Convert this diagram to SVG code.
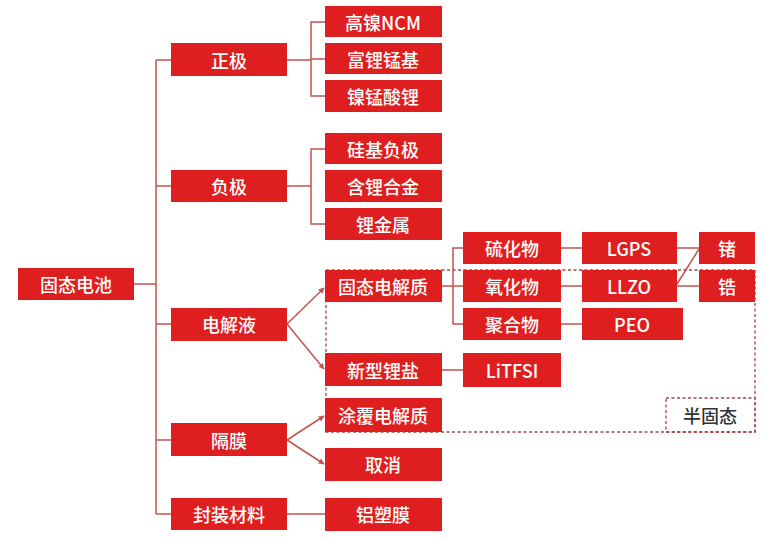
<svg xmlns="http://www.w3.org/2000/svg" width="768" height="538" viewBox="0 0 768 538">
<defs>
<marker id="arr" viewBox="0 0 10 10" refX="9" refY="5" markerWidth="6" markerHeight="6" orient="auto" markerUnits="userSpaceOnUse">
<path d="M0,0 L10,5 L0,10 z" fill="#c4534f"/>
</marker>
<style>
.n rect{fill:#df1f1f}
.n text{fill:#fff;font-family:"Noto Sans CJK SC","Noto Sans",sans-serif;font-size:18px;font-weight:500;text-anchor:middle;dominant-baseline:central}
.c line,.c polyline{stroke:#c4534f;stroke-width:1.5;fill:none}
.d{stroke:#a84444;stroke-width:1.3;stroke-dasharray:3,2.5;fill:none}
.s text{fill:#333;font-family:"Noto Sans CJK SC","Noto Sans",sans-serif;font-size:18px;font-weight:500;text-anchor:middle;dominant-baseline:central}
</style>
</defs>
<rect width="768" height="538" fill="#fff"/>

<g id="connectors" class="c">
<line x1="134" y1="284" x2="156" y2="284"/>
<line x1="156" y1="60" x2="156" y2="514"/>
<line x1="156" y1="60" x2="171" y2="60"/>
<line x1="156" y1="186" x2="171" y2="186"/>
<line x1="156" y1="324" x2="171" y2="324"/>
<line x1="156" y1="440" x2="171" y2="440"/>
<line x1="156" y1="514" x2="171" y2="514"/>
<line x1="287" y1="60" x2="311" y2="60"/>
<polyline points="325,22 311,22 311,96 325,96"/>
<line x1="311" y1="59" x2="325" y2="59"/>
<line x1="287" y1="186" x2="311" y2="186"/>
<polyline points="325,149 311,149 311,224 325,224"/>
<line x1="287" y1="324" x2="324" y2="288" marker-end="url(#arr)"/>
<line x1="287" y1="324" x2="324" y2="369" marker-end="url(#arr)"/>
<line x1="287" y1="440" x2="324" y2="416" marker-end="url(#arr)"/>
<line x1="287" y1="440" x2="324" y2="464" marker-end="url(#arr)"/>
<line x1="287" y1="514" x2="325" y2="514"/>
<line x1="442" y1="286" x2="463" y2="286"/>
<polyline points="463,248 453,248 453,324 463,324"/>
<line x1="442" y1="370" x2="463" y2="370"/>
<line x1="561" y1="248" x2="582" y2="248"/>
<line x1="561" y1="286" x2="582" y2="286"/>
<line x1="561" y1="324" x2="582" y2="324"/>
<line x1="677" y1="248" x2="699" y2="248"/>
<line x1="677" y1="286" x2="699" y2="286"/>
<line x1="677" y1="284" x2="699" y2="249"/>
</g>

<g id="semi-solid-region">
<rect class="d" x="326" y="270" width="429" height="162"/>
</g>

<g id="n-root" class="n"><rect x="18" y="268" width="116" height="32"/><text x="76" y="284">固态电池</text></g>
<g id="n-cathode" class="n"><rect x="171" y="43" width="116" height="33"/><text x="229" y="60">正极</text></g>
<g id="n-anode" class="n"><rect x="171" y="170" width="116" height="32"/><text x="229" y="186">负极</text></g>
<g id="n-electrolyte" class="n"><rect x="171" y="308" width="116" height="33"/><text x="229" y="324">电解液</text></g>
<g id="n-separator" class="n"><rect x="171" y="423" width="116" height="33"/><text x="229" y="440">隔膜</text></g>
<g id="n-package" class="n"><rect x="171" y="498" width="116" height="32"/><text x="229" y="514">封装材料</text></g>

<g id="n-ncm" class="n"><rect x="325" y="6" width="117" height="31"/><text x="383" y="22">高镍NCM</text></g>
<g id="n-lirich" class="n"><rect x="325" y="43" width="117" height="31"/><text x="383" y="59">富锂锰基</text></g>
<g id="n-lnmo" class="n"><rect x="325" y="80" width="117" height="32"/><text x="383" y="96">镍锰酸锂</text></g>
<g id="n-si" class="n"><rect x="325" y="133" width="117" height="31"/><text x="383" y="149">硅基负极</text></g>
<g id="n-lialloy" class="n"><rect x="325" y="170" width="117" height="32"/><text x="383" y="186">含锂合金</text></g>
<g id="n-limetal" class="n"><rect x="325" y="208" width="117" height="32"/><text x="383" y="224">锂金属</text></g>
<g id="n-sse" class="n"><rect x="325" y="270" width="117" height="32"/><text x="383" y="286">固态电解质</text></g>
<g id="n-newsalt" class="n"><rect x="325" y="353" width="117" height="33"/><text x="383" y="370">新型锂盐</text></g>
<g id="n-coated" class="n"><rect x="325" y="398" width="117" height="34"/><text x="383" y="415">涂覆电解质</text></g>
<g id="n-cancel" class="n"><rect x="325" y="448" width="117" height="33"/><text x="383" y="464">取消</text></g>
<g id="n-alfilm" class="n"><rect x="325" y="498" width="117" height="33"/><text x="383" y="514">铝塑膜</text></g>

<g id="n-sulfide" class="n"><rect x="463" y="232" width="98" height="32"/><text x="512" y="248">硫化物</text></g>
<g id="n-oxide" class="n"><rect x="463" y="270" width="98" height="32"/><text x="512" y="286">氧化物</text></g>
<g id="n-polymer" class="n"><rect x="463" y="308" width="98" height="32"/><text x="512" y="324">聚合物</text></g>
<g id="n-litfsi" class="n"><rect x="463" y="353" width="98" height="34"/><text x="512" y="370">LiTFSI</text></g>

<g id="n-lgps" class="n"><rect x="582" y="232" width="95" height="32"/><text x="629" y="248">LGPS</text></g>
<g id="n-llzo" class="n"><rect x="582" y="270" width="95" height="32"/><text x="629" y="286">LLZO</text></g>
<g id="n-peo" class="n"><rect x="582" y="308" width="101" height="32"/><text x="632" y="324">PEO</text></g>

<g id="n-ge" class="n"><rect x="699" y="232" width="56" height="32"/><text x="727" y="248">锗</text></g>
<g id="n-zr" class="n"><rect x="699" y="270" width="56" height="32"/><text x="727" y="286">锆</text></g>

<g id="n-semisolid" class="s"><rect class="d" x="666" y="398" width="89" height="34" fill="#fff"/><text x="710" y="415">半固态</text></g>
</svg>
